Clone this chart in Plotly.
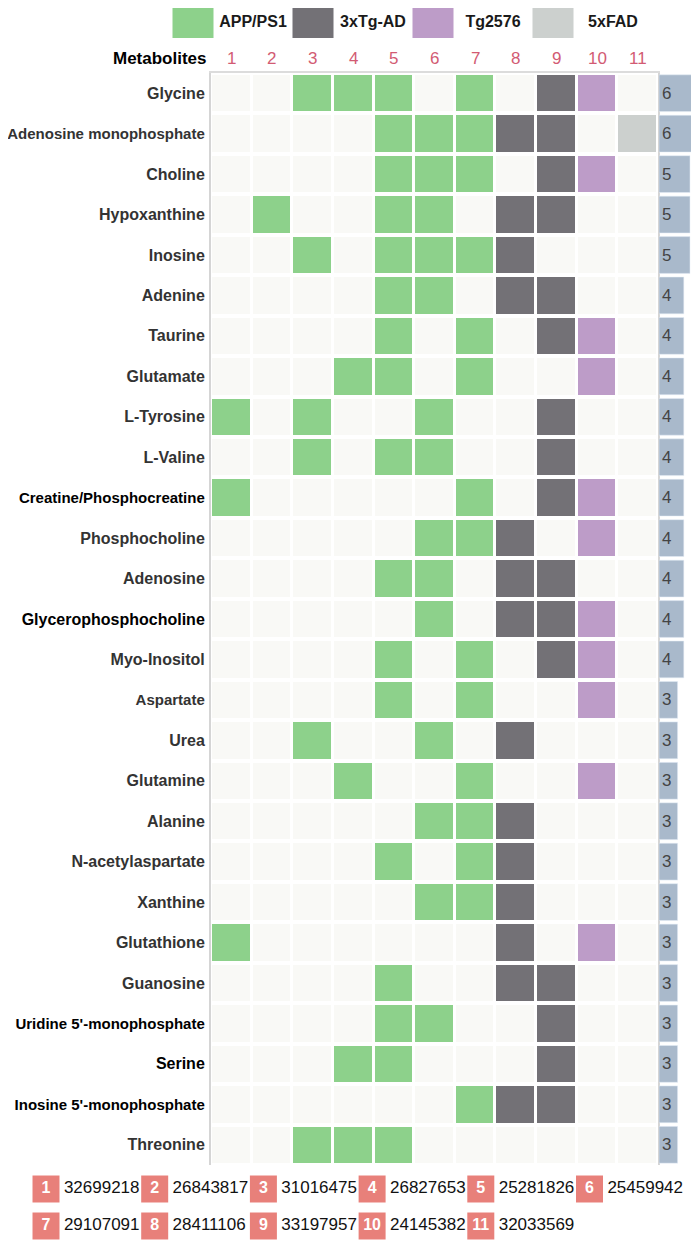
import plotly.graph_objects as go

# --- data ---
metabolites = ["Glycine", "Adenosine monophosphate", "Choline", "Hypoxanthine", "Inosine",
               "Adenine", "Taurine", "Glutamate", "L-Tyrosine", "L-Valine",
               "Creatine/Phosphocreatine", "Phosphocholine", "Adenosine",
               "Glycerophosphocholine", "Myo-Inositol", "Aspartate", "Urea", "Glutamine",
               "Alanine", "N-acetylaspartate", "Xanthine", "Glutathione", "Guanosine",
               "Uridine 5'-monophosphate", "Serine", "Inosine 5'-monophosphate", "Threonine"]
dark_labels = ["Creatine/Phosphocreatine", "Glycerophosphocholine",
               "Uridine 5'-monophosphate", "Serine", "Inosine 5'-monophosphate"]
small_labels = ["Adenosine monophosphate", "Aspartate", "Creatine/Phosphocreatine",
                "Uridine 5'-monophosphate", "Inosine 5'-monophosphate"]
studies = [1, 2, 3, 4, 5, 6, 7, 8, 9, 10, 11]
pmids = ["32699218", "26843817", "31016475", "26827653", "25281826", "25459942",
         "29107091", "28411106", "33197957", "24145382", "32033569"]
models = ["APP/PS1", "3xTg-AD", "Tg2576", "5xFAD"]
# 0 = not reported, 1 = APP/PS1, 2 = 3xTg-AD, 3 = Tg2576, 4 = 5xFAD
#          1  2  3  4  5  6  7  8  9 10 11
matrix = [[0, 0, 1, 1, 1, 0, 1, 0, 2, 3, 0],
          [0, 0, 0, 0, 1, 1, 1, 2, 2, 0, 4],
          [0, 0, 0, 0, 1, 1, 1, 0, 2, 3, 0],
          [0, 1, 0, 0, 1, 1, 0, 2, 2, 0, 0],
          [0, 0, 1, 0, 1, 1, 1, 2, 0, 0, 0],
          [0, 0, 0, 0, 1, 1, 0, 2, 2, 0, 0],
          [0, 0, 0, 0, 1, 0, 1, 0, 2, 3, 0],
          [0, 0, 0, 1, 1, 0, 1, 0, 0, 3, 0],
          [1, 0, 1, 0, 0, 1, 0, 0, 2, 0, 0],
          [0, 0, 1, 0, 1, 1, 0, 0, 2, 0, 0],
          [1, 0, 0, 0, 0, 0, 1, 0, 2, 3, 0],
          [0, 0, 0, 0, 0, 1, 1, 2, 0, 3, 0],
          [0, 0, 0, 0, 1, 1, 0, 2, 2, 0, 0],
          [0, 0, 0, 0, 0, 1, 0, 2, 2, 3, 0],
          [0, 0, 0, 0, 1, 0, 1, 0, 2, 3, 0],
          [0, 0, 0, 0, 1, 0, 1, 0, 0, 3, 0],
          [0, 0, 1, 0, 0, 1, 0, 2, 0, 0, 0],
          [0, 0, 0, 1, 0, 0, 1, 0, 0, 3, 0],
          [0, 0, 0, 0, 0, 1, 1, 2, 0, 0, 0],
          [0, 0, 0, 0, 1, 0, 1, 2, 0, 0, 0],
          [0, 0, 0, 0, 0, 1, 1, 2, 0, 0, 0],
          [1, 0, 0, 0, 0, 0, 0, 2, 0, 3, 0],
          [0, 0, 0, 0, 1, 0, 0, 2, 2, 0, 0],
          [0, 0, 0, 0, 1, 1, 0, 0, 2, 0, 0],
          [0, 0, 0, 1, 1, 0, 0, 0, 2, 0, 0],
          [0, 0, 0, 0, 0, 0, 1, 2, 2, 0, 0],
          [0, 0, 1, 1, 1, 0, 0, 0, 0, 0, 0]]
counts = [6, 6, 5, 5, 5, 4, 4, 4, 4, 4, 4, 4, 4, 4, 4, 3, 3, 3, 3, 3, 3, 3, 3, 3, 3, 3, 3]

EMPTY = "#f9f9f6"
model_colors = ["#8dd18b", "#737176", "#bd9cc8", "#ccd0ce"]
BAR = "#a9b9cb"
NUM_RED = "#d25b73"
FOOT_RED = "#e8807a"
FONT = "Liberation Sans, Arial, sans-serif"

# the page body adds an 8px margin, so everything is laid out 8px up/left
OFF = 8
W, H = 699, 1243


def fx(x):
    return (x - OFF) / W


def fy(y):
    return 1 - (y - OFF) / H


fig = go.Figure()

# heatmap grid
cs = [[0, EMPTY], [0.25, model_colors[0]], [0.5, model_colors[1]],
      [0.75, model_colors[2]], [1, model_colors[3]]]
fig.add_trace(go.Heatmap(z=matrix, x=studies, y=metabolites, colorscale=cs,
                         zmin=0, zmax=4, showscale=False, xgap=3, ygap=4,
                         hoverinfo="skip"))

# count bars
fig.add_trace(go.Bar(x=counts, y=metabolites, orientation="h",
                     xaxis="x2", yaxis="y2", marker_color=BAR, width=0.91,
                     text=counts, textposition="inside", insidetextanchor="start",
                     constraintext="none",
                     textfont=dict(family=FONT, size=17, color="#444444"),
                     hoverinfo="skip"))

# legend swatches
leg_x = list(range(len(models)))
fig.add_trace(go.Scatter(x=leg_x, y=[0] * len(models), mode="markers",
                         marker=dict(symbol="square", size=41, color=model_colors),
                         xaxis="x3", yaxis="y3", hoverinfo="skip"))
fig.add_trace(go.Scatter(x=[v + 0.5 for v in leg_x], y=[0] * len(models), mode="text",
                         text=["<b>%s</b>" % m for m in models],
                         textfont=dict(family=FONT, size=16, color="#1a1a1a"),
                         xaxis="x3", yaxis="y3", hoverinfo="skip"))

# footer with study references
foot_x = [i % 6 for i in range(len(pmids))]
foot_y = [i // 6 for i in range(len(pmids))]
fig.add_trace(go.Scatter(x=foot_x, y=foot_y, mode="markers+text",
                         marker=dict(symbol="square", size=27, color=FOOT_RED),
                         text=pmids, textposition="middle right",
                         textfont=dict(family=FONT, size=17, color="#111111"),
                         xaxis="x4", yaxis="y4", hoverinfo="skip"))
fig.add_trace(go.Scatter(x=foot_x, y=foot_y, mode="text",
                         text=["<b>%d</b>" % s for s in studies],
                         textfont=dict(family=FONT, size=16, color="white"),
                         xaxis="x4", yaxis="y4", hoverinfo="skip"))

ticktext = []
for m in metabolites:
    col = "#000000" if m in dark_labels else "#333333"
    size = "15px" if m in small_labels else "16px"
    ticktext.append("<span style='color:%s;font-size:%s'><b>%s</b></span>" % (col, size, m))

for s in studies:
    fig.add_annotation(x=s, y=fy(59), xref="x", yref="paper", yanchor="middle",
                       text=str(s), showarrow=False,
                       font=dict(family=FONT, size=17, color=NUM_RED))
fig.add_annotation(x=fx(209), y=fy(59), xref="paper", yref="paper",
                   xanchor="right", yanchor="middle", text="<b>Metabolites</b>",
                   showarrow=False, font=dict(family=FONT, size=17, color="#000000"))

grid_dom = [fy(1165), fy(73)]
fig.update_layout(
    width=W, height=H, margin=dict(l=0, r=0, t=0, b=0, autoexpand=False),
    plot_bgcolor="white", paper_bgcolor="white", showlegend=False,
    font=dict(family=FONT),
    xaxis=dict(domain=[fx(211), fx(658)], range=[0.5, 11.5], side="top",
               showticklabels=False, showgrid=False, zeroline=False, automargin=False,
               showline=True, linecolor="#dcdcdc", linewidth=2),
    yaxis=dict(domain=grid_dom, autorange="reversed", tickmode="array",
               tickvals=metabolites, ticktext=ticktext, ticks="", ticklabelstandoff=1,
               tickfont=dict(family=FONT, size=16), automargin=False,
               showgrid=False, zeroline=False, showline=True, mirror=True,
               linecolor="#d5d5d5", linewidth=2),
    xaxis2=dict(domain=[fx(659), fx(699 + OFF)], range=[0, (699 + OFF - 659) / 6.2],
                visible=False),
    yaxis2=dict(domain=grid_dom, matches="y", visible=False, anchor="x2"),
    xaxis3=dict(domain=[0, 1], range=[(OFF - 193) / 120, (699 + OFF - 193) / 120],
                visible=False),
    yaxis3=dict(domain=[fy(38), fy(8)], range=[-1, 1], visible=False, anchor="x3"),
    xaxis4=dict(domain=[0, 1], range=[(OFF - 46) / 108.7, (699 + OFF - 46) / 108.7],
                visible=False),
    yaxis4=dict(domain=[fy(1243), fy(1170)], range=[(1243 - 1189) / 37, (1170 - 1189) / 37],
                visible=False, anchor="x4"),
)

fig.write_html("out.html")
